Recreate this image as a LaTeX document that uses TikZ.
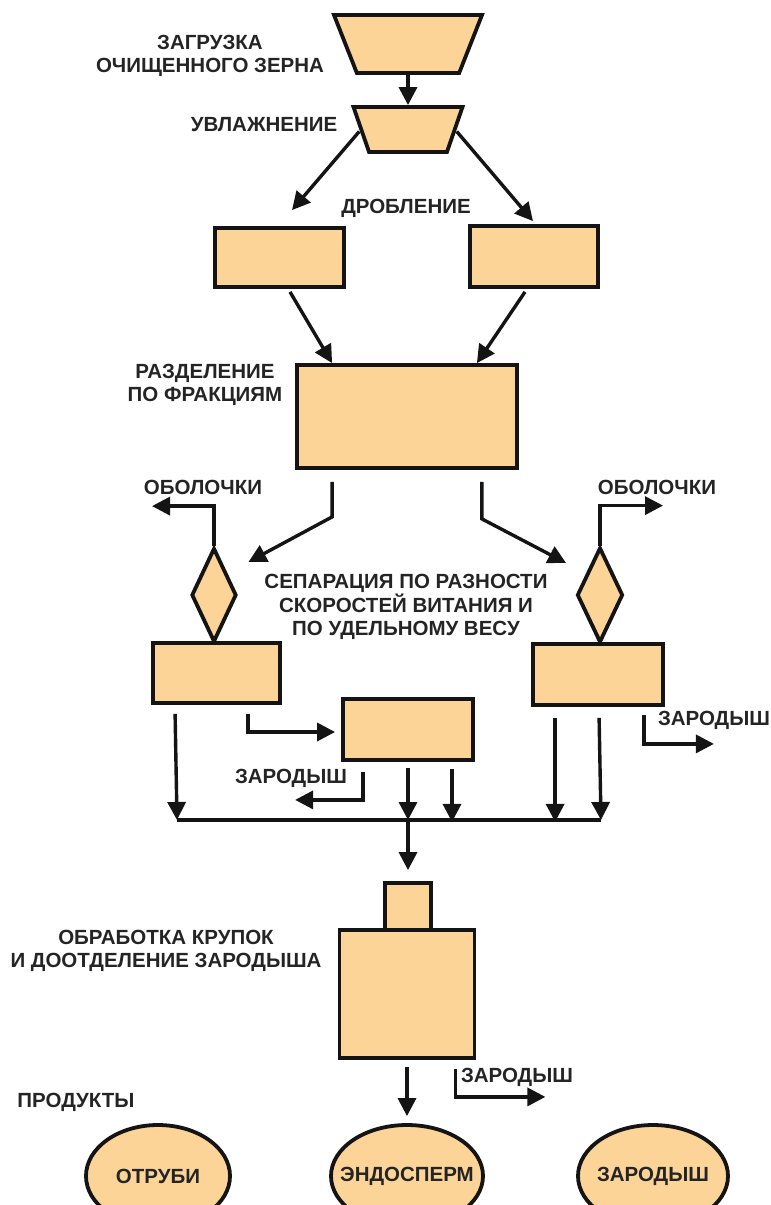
\documentclass[tikz,border=0pt]{standalone}
\usepackage{fontspec}
\setmainfont{Liberation Sans}
\usetikzlibrary{calc, shapes.geometric, arrows.meta}
\definecolor{grain}{RGB}{252,212,152}
\definecolor{ink}{RGB}{20,20,20}
\definecolor{textgray}{RGB}{36,36,36}

\begin{document}
\begin{tikzpicture}[x=0.5pt, y=-0.5pt]
	\tikzstyle{machine}=[draw=ink, fill=grain, line width=1.9pt, inner sep=1pt]
	\tikzstyle{box}=[machine, rectangle]
	\tikzstyle{hopper}=[machine, trapezium, trapezium stretches=true, shape border rotate=180]
	\tikzstyle{valve}=[machine, diamond]
	\tikzstyle{product}=[machine, ellipse]
	\tikzstyle{tag}=[text=textgray, inner sep=0pt, align=center, font=\bfseries\fontsize{10.25}{11.75}\selectfont]
	\tikzstyle{flow}=[draw=ink, line width=1.7pt, -{Triangle[length=9pt, width=9pt]}]
	\tikzstyle{pipe}=[draw=ink, line width=1.7pt]

	\useasboundingbox (0,0) rectangle (771,1205);
	\clip (0,0) rectangle (771,1205);

	\begin{scope}
		\node [hopper, minimum width=74pt, minimum height=29pt, trapezium left angle=77.4, trapezium right angle=77.4] (load) at (408,44) {};
		\node [hopper, minimum width=54.5pt, minimum height=22.5pt, trapezium left angle=78.7, trapezium right angle=78.7] (wet) at (408,129.5) {};
		\draw [flow] (load) -- (wet);
		\node [tag] (loadtag) at (210,56) {ЗАГРУЗКА\\ОЧИЩЕННОГО ЗЕРНА};
		\node [tag] (wettag) at (264,125) {УВЛАЖНЕНИЕ};
	\end{scope}

	\begin{scope}
		\node [box, minimum width=64.5pt, minimum height=29.5pt] (crushL) at (279.5,257.5) {};
		\node [box, minimum width=64pt, minimum height=30.5pt] (crushR) at (534,256.5) {};
		\draw [flow] ($(wet.west)+(0,2)$) -- ($(crushL.north)+(12.5,-16)$);
		\draw [flow] ($(wet.east)+(0,2)$) -- ($(crushR.north)+(-1,-3)$);
		\node [tag] (crushtag) at (406,208) {ДРОБЛЕНИЕ};
	\end{scope}

	\begin{scope}
		\node [box, minimum width=110pt, minimum height=51.5pt] (frac) at (407,416.5) {};
		\draw [flow] ($(crushL.south)+(10.5,3)$) -- ($(frac.north west)+(37,0)$);
		\draw [flow] ($(crushR.south)+(-9,3)$) -- ($(frac.north east)+(-42,0)$);
		\node [tag] (fractag) at (205,385) {РАЗДЕЛЕНИЕ\\ПО ФРАКЦИЯМ};
	\end{scope}

	\begin{scope}
		\node [valve, minimum width=22.5pt, minimum height=47pt] (valveL) at (214,595) {};
		\node [valve, minimum width=23pt, minimum height=47.5pt] (valveR) at (600,595) {};
		\draw [flow] ($(frac.south west)+(37,12)$) -- ++(0,35) -- ($(valveL.east)+(10,-33)$);
		\draw [flow] ($(frac.south east)+(-37,12)$) -- ++(0,37) -- ($(valveR.west)+(-9,-32)$);
		\draw [flow] (valveL.north) -- ++(0,-40) -- ++(-62,0);
		\draw [flow] (valveR.north) -- ++(0,-40) -- ++(63,0);
		\node [tag] (hulltagL) at (203,487) {ОБОЛОЧКИ};
		\node [tag] (hulltagR) at (657,487) {ОБОЛОЧКИ};
		\node [tag] (septag) at (406,607) {СЕПАРАЦИЯ ПО РАЗНОСТИ\\СКОРОСТЕЙ ВИТАНИЯ И\\ПО УДЕЛЬНОМУ ВЕСУ};
	\end{scope}

	\begin{scope}
		\node [box, minimum width=63.5pt, minimum height=30pt] (sepL) at (216.5,673) {};
		\node [box, minimum width=65pt, minimum height=30.5pt] (sepR) at (598,674.5) {};
		\node [box, minimum width=65pt, minimum height=30.5pt] (sieve) at (408,729.5) {};
		\coordinate (busL) at (177,820);
		\coordinate (busM) at (408,820);
		\coordinate (busR) at (601,820);
		\draw [pipe] (busL) -- (busR);
		\draw [flow] ($(sepL.south west)+(24,9)$) -- (busL);
		\draw [flow] ($(sepL.south east)+(-34,9)$) |- ($(sieve.west)+(-6,2.5)$);
		\draw [flow] ($(sieve.south west)+(22,10)$) -- ++(0,28) -- ++(-68,0);
		\draw [flow] ($(sieve.south)+(0,6)$) -- (busM);
		\draw [flow] ($(sieve.south)+(44,7)$) -- ++(0,53);
		\draw [flow] ($(sepR.south west)+(24,11)$) -- ++(0,104);
		\draw [flow] ($(sepR.south west)+(68,11)$) -- (busR);
		\draw [flow] ($(sepR.south east)+(-21,8)$) -- ++(0,29) -- ++(70,0);
		\node [tag] (germtagA) at (291,778) {ЗАРОДЫШ};
		\node [tag] (germtagB) at (714,720) {ЗАРОДЫШ};
	\end{scope}

	\begin{scope}
		\node [box, minimum width=23pt, minimum height=23.5pt] (feed) at (408,906.5) {};
		\node [box, minimum width=67.5pt, minimum height=64pt] (finish) at (407,994) {};
		\draw [flow] (busM) -- ($(feed.north)+(0,-11)$);
		\node [tag] (finishtag) at (166,951) {ОБРАБОТКА КРУПОК\\И ДООТДЕЛЕНИЕ ЗАРОДЫША};
	\end{scope}

	\begin{scope}
		\node [product, minimum width=72pt, minimum height=51pt] (bran) at (158,1176) {};
		\node [product, minimum width=76pt, minimum height=51pt] (endo) at (407,1176) {};
		\node [product, minimum width=75pt, minimum height=51pt] (germ) at (653,1176) {};
		\node [tag] (brantag) at (bran) {ОТРУБИ};
		\node [tag] (endotag) at (endo) {ЭНДОСПЕРМ};
		\node [tag] (germtag) at (germ) {ЗАРОДЫШ};
		\draw [flow] ($(finish.south)+(0,7)$) -- ($(endo.north)+(0,-7)$);
		\draw [flow] ($(finish.south east)+(-21,9)$) -- ++(0,28) -- ++(90,0);
		\node [tag] (germtagC) at (517,1077) {ЗАРОДЫШ};
		\node [tag] (prodtag) at (76,1102) {ПРОДУКТЫ};
	\end{scope}
\end{tikzpicture}
\end{document}
